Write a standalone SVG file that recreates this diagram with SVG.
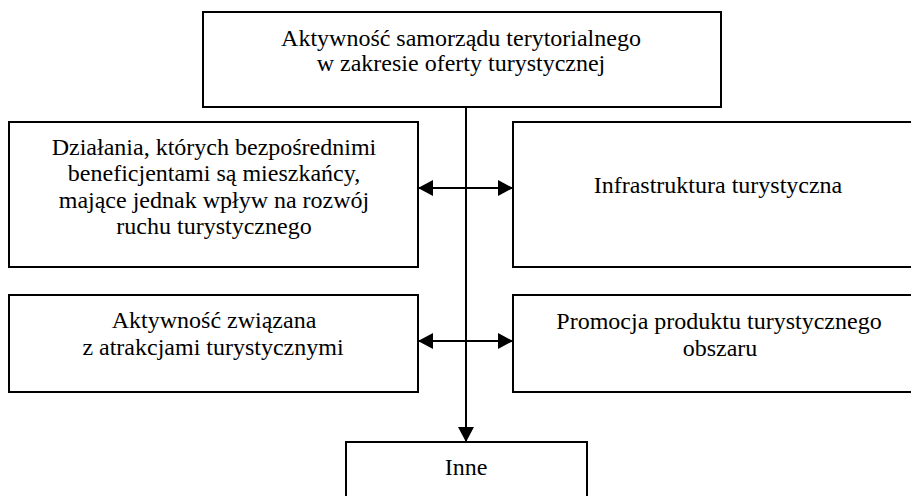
<svg xmlns="http://www.w3.org/2000/svg" width="911" height="496" viewBox="0 0 911 496">
<style>
.box{fill:#fff;stroke:#000;stroke-width:2}
.t{font-family:"Liberation Serif","Times New Roman",serif;font-size:24px;fill:#000;text-anchor:middle}
.ln{stroke:#000;stroke-width:2;fill:none}
</style>
<defs>
<marker id="ah" viewBox="0 0 15 16" refX="15" refY="8" markerWidth="15" markerHeight="16" markerUnits="userSpaceOnUse" orient="auto-start-reverse">
<path d="M0,0 L15,8 L0,16 Z" fill="#000"/>
</marker>
</defs>
<rect width="911" height="496" fill="#fff"/>
<g id="n-top">
<rect class="box" x="203" y="12" width="518" height="95"/>
<text class="t" x="461" y="46">Aktywność samorządu terytorialnego</text>
<text class="t" x="461" y="71">w zakresie oferty turystycznej</text>
</g>
<g id="n-dzialania">
<rect class="box" x="9" y="122" width="409" height="145"/>
<text class="t" x="214" y="155">Działania, których bezpośrednimi</text>
<text class="t" x="214" y="181">beneficjentami są mieszkańcy,</text>
<text class="t" x="214" y="208">mające jednak wpływ na rozwój</text>
<text class="t" x="214" y="234">ruchu turystycznego</text>
</g>
<g id="n-infra">
<rect class="box" x="513" y="122" width="420" height="145"/>
<text class="t" x="718" y="193">Infrastruktura turystyczna</text>
</g>
<g id="n-atrakcje">
<rect class="box" x="9" y="295" width="409" height="97"/>
<text class="t" x="214" y="328">Aktywność związana</text>
<text class="t" x="213" y="355">z atrakcjami turystycznymi</text>
</g>
<g id="n-promocja">
<rect class="box" x="513" y="295" width="420" height="97"/>
<text class="t" x="719" y="329">Promocja produktu turystycznego</text>
<text class="t" x="720" y="356">obszaru</text>
</g>
<g id="n-inne">
<rect class="box" x="346" y="442" width="241" height="70"/>
<text class="t" x="466" y="475">Inne</text>
</g>
<g id="connectors">
<line class="ln" x1="466" y1="107" x2="466" y2="442" marker-end="url(#ah)"/>
<line class="ln" x1="418" y1="188" x2="513" y2="188" marker-start="url(#ah)" marker-end="url(#ah)"/>
<line class="ln" x1="418" y1="341" x2="513" y2="341" marker-start="url(#ah)" marker-end="url(#ah)"/>
</g>
</svg>
